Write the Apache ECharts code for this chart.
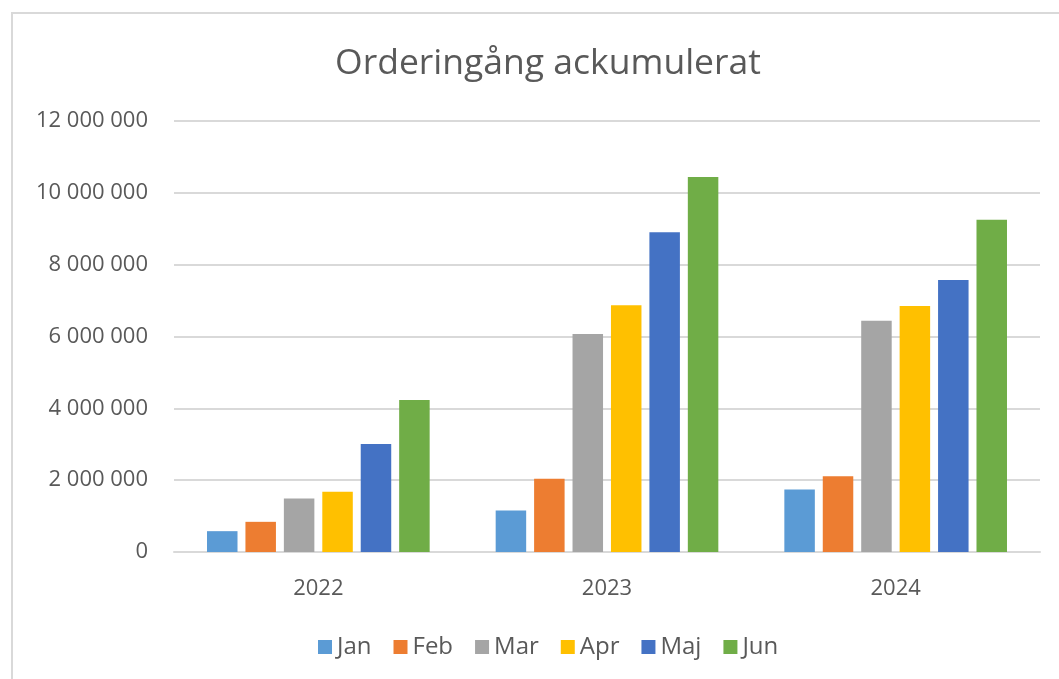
<!DOCTYPE html>
<html>
<head>
<meta charset="utf-8">
<script src="https://cdn.jsdelivr.net/npm/echarts@6/dist/echarts.min.js"></script>
<style>
html,body{margin:0;padding:0;background:#fff;}
#chart{width:1059px;height:679px;}
</style>
</head>
<body>
<div id="chart"></div>
<script>
const categories = ['2022', '2023', '2024'];
const months = ['Jan', 'Feb', 'Mar', 'Apr', 'Maj', 'Jun'];
const jan = [580000, 1155000, 1740000];
const feb = [840000, 2040000, 2110000];
const mar = [1490000, 6070000, 6440000];
const apr = [1680000, 6870000, 6850000];
const maj = [3010000, 8900000, 7570000];
const jun = [4230000, 10440000, 9250000];
const seriesValues = [jan, feb, mar, apr, maj, jun];
const colors = ['#5B9BD5', '#ED7D31', '#A5A5A5', '#FFC000', '#4472C4', '#70AD47'];
const titleText = 'Orderingång ackumulerat';

const textColor = '#595959';
const font = '"Open Sans", "Noto Sans", sans-serif';

function fmt(v) {
  return String(v).replace(/\B(?=(\d{3})+(?!\d))/g, ' ');
}

const chart = echarts.init(document.getElementById('chart'), null, {renderer: 'canvas'});
chart.setOption({
  animation: false,
  backgroundColor: '#fff',
  color: colors,
  graphic: [{
    type: 'rect',
    shape: {x: 12, y: 13, width: 1100, height: 700},
    style: {fill: 'none', stroke: '#d9d9d9', lineWidth: 2},
    silent: true
  }],
  title: {
    text: titleText,
    left: 543,
    textAlign: 'center',
    top: 41,
    textStyle: {color: textColor, fontFamily: font, fontSize: 35.5, fontWeight: 'normal'}
  },
  legend: {
    data: months,
    bottom: 15,
    left: 313,
    itemWidth: 14,
    itemHeight: 14,
    itemGap: 22,
    icon: 'rect',
    textStyle: {color: textColor, fontFamily: font, fontSize: 24}
  },
  grid: {left: 174, right: 19, top: 121, bottom: 127, containLabel: false},
  xAxis: {
    type: 'category',
    data: categories,
    axisTick: {show: false},
    axisLine: {lineStyle: {color: '#d9d9d9', width: 2}},
    axisLabel: {color: textColor, fontFamily: font, fontSize: 22, margin: 26}
  },
  yAxis: {
    type: 'value',
    min: 0,
    max: 12000000,
    interval: 2000000,
    axisLine: {show: false},
    axisTick: {show: false},
    splitLine: {lineStyle: {color: '#d9d9d9', width: 2}},
    axisLabel: {color: textColor, fontFamily: font, fontSize: 22, margin: 26, formatter: fmt}
  },
  series: months.map((m, i) => ({
    name: m,
    type: 'bar',
    data: seriesValues[i],
    barWidth: 30.5,
    barGap: '26%',
    itemStyle: {color: colors[i]}
  }))
});
</script>
</body>
</html>
